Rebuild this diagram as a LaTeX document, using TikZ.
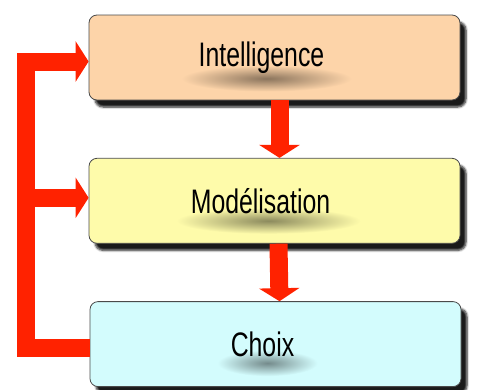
\documentclass[tikz,border=0pt]{standalone}
\usepackage{graphicx}
\usepackage{fontspec}
\setmainfont{Liberation Sans}
\usetikzlibrary{positioning,shadows.blur,arrows.meta}

\definecolor{rouge}{HTML}{FF2200}
\definecolor{peche}{HTML}{FDD4A9}
\definecolor{jaune}{HTML}{FEFBAA}
\definecolor{cyan}{HTML}{D3FCFD}
\definecolor{bord}{HTML}{4A4A4A}

\newcommand{\etroit}[1]{\scalebox{0.73}[1]{#1}}

\begin{document}
\begin{tikzpicture}[x=1pt,y=-1pt,
  etape/.style={draw=bord, fill=#1, rounded corners=8pt, line width=0.8pt,
    minimum width=371pt, minimum height=85pt, inner sep=0pt,
    blur shadow={shadow xshift=6pt, shadow yshift=-7pt, shadow blur steps=6, shadow opacity=90}},
  titre/.style={font=\fontsize{34}{40}\selectfont, text=black, inner sep=0pt},
  fleche/.style={draw=rouge, line width=18pt, -{Triangle[width=40pt,length=13pt]}},
  node distance=57.5pt]
\useasboundingbox (0,0) rectangle (477,389);

% les trois etapes
\node [etape=peche] (I) at (274.5,57.5) {};
\node [etape=jaune, below=of I] (M) {};
\node [etape=cyan, below=of M, xshift=1pt] (C) {};

% ombre floue sous les textes
\shade [inner color=black!45!peche, outer color=peche] ([shift={(-8pt,-21pt)}]I.center) ellipse (85 and 13);
\shade [inner color=black!45!jaune, outer color=jaune] ([shift={(-6pt,-20pt)}]M.center) ellipse (92 and 13);
\shade [inner color=black!45!cyan, outer color=cyan] ([shift={(-8pt,-19pt)}]C.center) ellipse (50 and 13);

\node [titre, xshift=-13pt] (tI) at (I.center) {\etroit{Intelligence}};
\node [titre, xshift=-14pt] (tM) at (M.center) {\etroit{Mod\'elisation}};
\node [titre, xshift=-13pt] (tC) at (C.center) {\etroit{Choix}};

% fleches
\coordinate (rail) at (26,0);
\draw [fleche] ([xshift=5pt]I.south) -- ([xshift=5pt]M.north);
\draw [fleche] ([xshift=4pt]M.south) -- ([xshift=4pt]C.north);
\draw [fleche] ([yshift=-4pt]C.west) -| ([yshift=-4pt]rail |- I.west) -- ([yshift=-4pt]I.west);
\draw [fleche] ([yshift=3pt]rail |- M.west) -- ([yshift=3pt]M.west);
\end{tikzpicture}
\end{document}
